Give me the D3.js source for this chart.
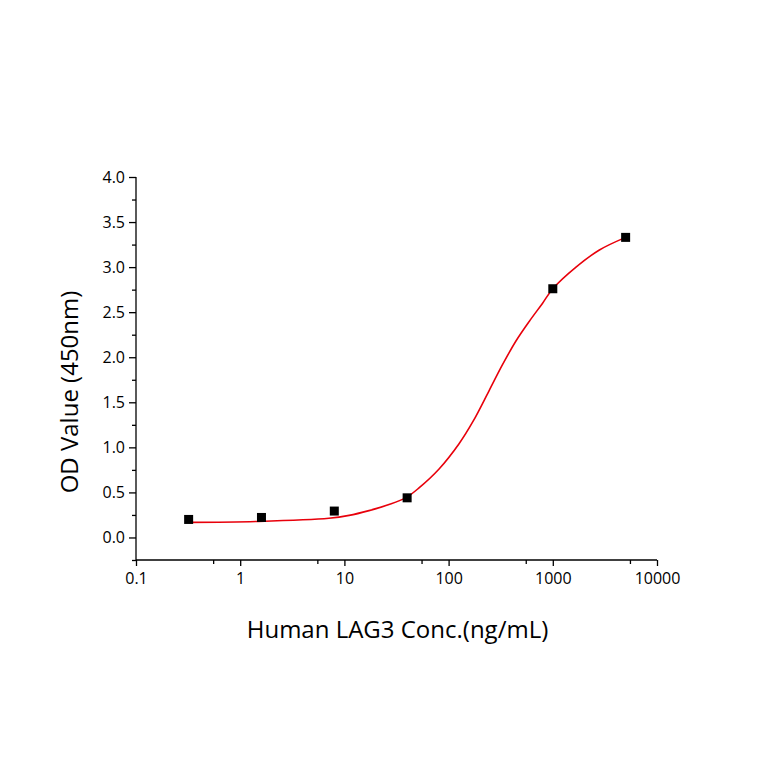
<!DOCTYPE html>
<html>
<head>
<meta charset="utf-8">
<script src="https://cdn.jsdelivr.net/npm/d3@7"></script>
<style>
  body { margin: 0; background: #fff; }
  text { font-family: "Open Sans", "Liberation Sans", sans-serif; fill: #000; }
</style>
</head>
<body>
<svg width="764" height="764"></svg>
<script>
// measured points: concentration (ng/mL) and OD at 450nm
const conc = [0.32, 1.6, 8, 40, 1000, 5000];
const od = [0.20, 0.222, 0.293, 0.44, 2.76, 3.33];

// fitted curve
const fitConc = [0.32, 1.5, 7.1, 11.1, 17.2, 26.8, 39.4, 52, 81, 126, 172, 245, 330, 443, 596, 798, 1000, 1670, 2800, 5000];
const fitOd = [0.167, 0.178, 0.213, 0.245, 0.298, 0.365, 0.445, 0.55, 0.76, 1.04, 1.29, 1.63, 1.92, 2.18, 2.40, 2.60, 2.76, 3.0, 3.19, 3.33];

const xTicks = [0.1, 1, 10, 100, 1000, 10000];
const xMinor = [0.55, 5.5, 55, 550, 5500];
const yTicks = [0, 0.5, 1, 1.5, 2, 2.5, 3, 3.5, 4];
const yMinor = [-0.25, 0.25, 0.75, 1.25, 1.75, 2.25, 2.75, 3.25, 3.75];

const svg = d3.select('svg');
const margin = {left: 136, right: 107, top: 177, bottom: 204};
const width = 764 - margin.left - margin.right;
const height = 764 - margin.top - margin.bottom;

const x = d3.scaleLog().domain([0.1, 10000]).range([0, width]);
const y = d3.scaleLinear().domain([-0.25, 4]).range([height, 0]);

const g = svg.append('g').attr('transform', `translate(${margin.left},${margin.top})`);

// x axis, major then minor ticks
const xAxis = g.append('g').attr('transform', `translate(0,${height})`)
  .call(d3.axisBottom(x).tickValues(xTicks).tickFormat(d3.format('')).tickSize(6).tickPadding(7));
g.append('g').attr('transform', `translate(0,${height})`)
  .call(d3.axisBottom(x).tickValues(xMinor).tickFormat('').tickSize(4))
  .select('.domain').remove();

// y axis
const yAxis = g.append('g')
  .call(d3.axisLeft(y).tickValues(yTicks).tickFormat(d3.format('.1f')).tickSize(7).tickPadding(4));
g.append('g')
  .call(d3.axisLeft(y).tickValues(yMinor).tickFormat('').tickSize(4))
  .select('.domain').remove();

// plain axis lines, no end caps
xAxis.select('.domain').attr('d', `M0,0H${width}`);
yAxis.select('.domain').attr('d', `M0,${height}V0`);
svg.selectAll('.domain, .tick line').attr('stroke', '#000').attr('stroke-width', 1.3);
svg.selectAll('.tick text').style('font-size', '16px');

// fitted curve
const line = d3.line()
  .x((d, i) => x(fitConc[i]))
  .y(d => y(d))
  .curve(d3.curveCatmullRom.alpha(0.5));
g.append('path')
  .datum(fitOd)
  .attr('d', line)
  .attr('fill', 'none')
  .attr('stroke', '#e8000b')
  .attr('stroke-width', 1.6);

// data squares
const s = 9;
g.selectAll('.pt').data(od).enter().append('rect')
  .attr('class', 'pt')
  .attr('x', (d, i) => x(conc[i]) - s / 2)
  .attr('y', d => y(d) - s / 2)
  .attr('width', s)
  .attr('height', s)
  .attr('fill', '#000');

// axis titles
svg.append('text')
  .attr('x', margin.left + width / 2 + 1)
  .attr('y', 638)
  .attr('text-anchor', 'middle')
  .style('font-size', '24px')
  .text('Human LAG3 Conc.(ng/mL)');

svg.append('text')
  .attr('transform', `translate(78,${392}) rotate(-90)`)
  .attr('text-anchor', 'middle')
  .style('font-size', '24px')
  .text('OD Value (450nm)');
</script>
</body>
</html>
